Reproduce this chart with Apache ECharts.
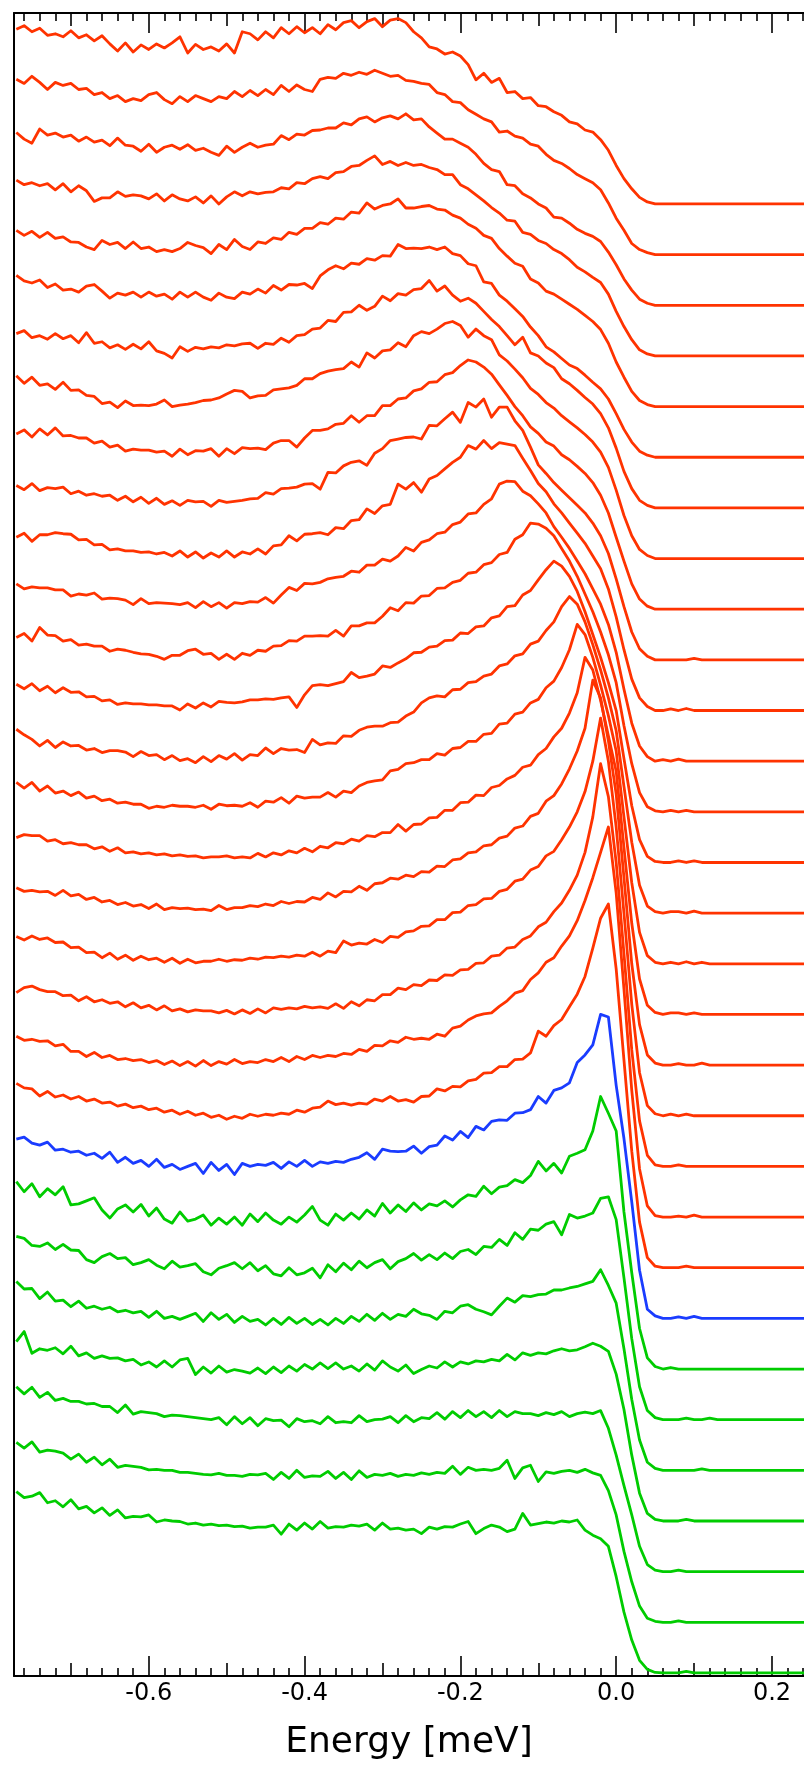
<!DOCTYPE html>
<html><head><meta charset="utf-8">
<script src="https://cdn.jsdelivr.net/npm/echarts@6/dist/echarts.min.js"></script>
<style>html,body{margin:0;padding:0;background:#fff}#c{width:804px;height:1766px}</style>
</head><body><div id="c"></div>
<script>
// Energy grid (meV)
const energy = [-0.77,-0.76,-0.75,-0.74,-0.73,-0.72,-0.71,-0.70,-0.69,-0.68,
-0.67,-0.66,-0.65,-0.64,-0.63,-0.62,-0.61,-0.60,-0.59,-0.58,
-0.57,-0.56,-0.55,-0.54,-0.53,-0.52,-0.51,-0.50,-0.49,-0.48,
-0.47,-0.46,-0.45,-0.44,-0.43,-0.42,-0.41,-0.40,-0.39,-0.38,
-0.37,-0.36,-0.35,-0.34,-0.33,-0.32,-0.31,-0.30,-0.29,-0.28,
-0.27,-0.26,-0.25,-0.24,-0.23,-0.22,-0.21,-0.20,-0.19,-0.18,
-0.17,-0.16,-0.15,-0.14,-0.13,-0.12,-0.11,-0.10,-0.09,-0.08,
-0.07,-0.06,-0.05,-0.04,-0.03,-0.02,-0.01,0.00,0.01,0.02,
0.03,0.04,0.05,0.06,0.07,0.08,0.09,0.10,0.11,0.12,0.13,0.25];

// Curves, top to bottom (intensity relative to each curve's own baseline)
const red01 = [3.45,3.52,3.40,3.47,3.33,3.36,3.30,3.42,3.28,3.34,3.22,3.32,3.16,3.02,3.18,3.00,3.14,3.05,3.16,3.08,3.18,3.30,2.98,3.15,3.05,3.10,3.02,3.16,2.98,3.40,3.36,3.24,3.40,3.28,3.48,3.36,3.50,3.38,3.48,3.36,3.54,3.44,3.58,3.62,3.48,3.60,3.66,3.50,3.63,3.66,3.58,3.40,3.28,3.10,3.06,2.96,3.00,2.92,2.75,2.45,2.58,2.40,2.48,2.20,2.22,2.08,2.10,1.94,1.92,1.82,1.75,1.62,1.58,1.46,1.42,1.27,1.06,0.76,0.50,0.30,0.13,0.04,0,0,0,0,0,0,0,0,0,0];
const red02 = [3.46,3.38,3.52,3.40,3.26,3.40,3.34,3.38,3.26,3.28,3.16,3.20,3.08,3.14,3.02,3.08,3.04,3.16,3.20,3.06,2.98,3.12,3.02,3.14,3.08,3.02,3.12,3.08,3.22,3.12,3.24,3.14,3.26,3.16,3.34,3.22,3.35,3.26,3.22,3.46,3.50,3.48,3.58,3.54,3.60,3.56,3.64,3.58,3.52,3.54,3.44,3.42,3.38,3.36,3.20,3.16,3.02,3.00,2.86,2.77,2.68,2.62,2.42,2.44,2.34,2.30,2.18,2.14,1.98,1.86,1.80,1.70,1.58,1.50,1.42,1.28,1.02,0.72,0.48,0.22,0.10,0.04,0,0,0,0,0,0,0,0,0,0];
const red03 = [3.41,3.28,3.20,3.48,3.36,3.40,3.32,3.36,3.24,3.32,3.22,3.26,3.15,3.30,3.16,3.14,3.04,3.18,3.02,3.12,3.16,3.08,3.17,3.06,3.10,3.02,2.96,3.14,3.02,3.12,3.20,3.12,3.16,3.18,3.35,3.27,3.38,3.36,3.45,3.46,3.50,3.50,3.60,3.56,3.68,3.72,3.62,3.70,3.74,3.68,3.78,3.66,3.68,3.52,3.40,3.28,3.28,3.20,3.12,2.98,2.80,2.68,2.64,2.38,2.36,2.20,2.12,2.00,1.92,1.74,1.72,1.62,1.50,1.42,1.36,1.26,1.05,0.80,0.52,0.30,0.12,0.04,0,0,0,0,0,0,0,0,0,0];
const red04 = [3.47,3.38,3.42,3.36,3.40,3.28,3.40,3.24,3.36,3.26,3.05,3.12,3.12,3.24,3.15,3.18,3.16,3.10,3.20,3.06,3.18,3.10,3.06,3.14,3.02,3.16,3.00,3.14,3.24,3.16,3.24,3.20,3.23,3.24,3.32,3.30,3.42,3.40,3.50,3.54,3.50,3.62,3.64,3.74,3.76,3.86,3.95,3.78,3.84,3.76,3.82,3.76,3.78,3.72,3.68,3.58,3.58,3.38,3.30,3.18,3.06,2.93,2.82,2.68,2.66,2.44,2.40,2.28,2.22,2.10,2.02,1.90,1.75,1.66,1.55,1.45,1.22,0.88,0.58,0.32,0.12,0.04,0,0,0,0,0,0,0,0,0,0];
const red05 = [3.48,3.38,3.46,3.34,3.44,3.32,3.35,3.25,3.24,3.15,3.10,3.28,3.20,3.24,3.12,3.25,3.12,3.15,3.06,3.10,3.06,3.12,3.24,3.18,3.14,3.02,3.20,3.10,3.30,3.16,3.10,3.25,3.22,3.33,3.30,3.44,3.40,3.52,3.52,3.63,3.60,3.72,3.70,3.84,3.82,4.02,3.90,3.97,4.00,4.10,3.92,3.92,3.95,3.97,3.90,3.88,3.78,3.72,3.60,3.52,3.38,3.32,3.12,2.97,2.83,2.77,2.52,2.44,2.28,2.22,2.12,2.02,1.92,1.80,1.68,1.52,1.25,0.88,0.58,0.30,0.12,0.04,0,0,0,0,0,0,0,0,0,0];
const red06 = [3.59,3.48,3.44,3.50,3.35,3.42,3.30,3.32,3.26,3.38,3.41,3.28,3.14,3.24,3.20,3.26,3.16,3.26,3.18,3.22,3.12,3.26,3.16,3.26,3.16,3.10,3.24,3.16,3.13,3.26,3.22,3.32,3.24,3.39,3.30,3.41,3.40,3.43,3.33,3.58,3.70,3.78,3.72,3.83,3.81,3.92,3.89,3.98,3.97,4.20,4.12,4.13,4.12,4.15,4.10,4.15,4.02,3.98,3.82,3.78,3.46,3.43,3.20,3.08,2.93,2.78,2.57,2.40,2.18,2.08,1.95,1.82,1.75,1.62,1.48,1.35,1.15,0.86,0.55,0.30,0.12,0.04,0,0,0,0,0,0,0,0,0,0];
const red07 = [3.44,3.50,3.36,3.40,3.33,3.44,3.34,3.40,3.26,3.46,3.25,3.28,3.16,3.22,3.13,3.23,3.14,3.28,3.10,3.05,2.96,3.18,3.09,3.17,3.14,3.18,3.16,3.22,3.20,3.24,3.25,3.15,3.25,3.23,3.35,3.27,3.40,3.42,3.53,3.55,3.70,3.68,3.86,3.87,4.00,3.90,3.98,4.18,4.09,4.23,4.20,4.31,4.33,4.49,4.28,4.38,4.20,4.08,4.14,4.04,3.88,3.72,3.58,3.40,3.22,3.37,3.06,3.00,2.86,2.77,2.55,2.45,2.32,2.18,2.05,1.86,1.58,1.18,0.72,0.38,0.15,0.05,0,0,0,0,0,0,0,0,0,0];
const red08 = [3.61,3.46,3.58,3.42,3.45,3.34,3.48,3.32,3.33,3.22,3.20,3.06,3.09,2.98,3.11,3.02,3.03,3.02,3.05,3.13,3.00,3.03,3.05,3.08,3.12,3.13,3.17,3.25,3.32,3.30,3.17,3.21,3.22,3.33,3.35,3.37,3.42,3.55,3.55,3.65,3.70,3.73,3.75,3.88,3.78,4.06,3.96,4.10,4.12,4.26,4.18,4.40,4.48,4.44,4.53,4.64,4.68,4.60,4.37,4.53,4.40,4.32,4.02,3.90,3.74,3.57,3.36,3.24,3.08,2.97,2.82,2.70,2.58,2.45,2.30,2.10,1.80,1.35,0.85,0.45,0.18,0.06,0,0,0,0,0,0,0,0,0,0];
const red09 = [3.46,3.54,3.40,3.56,3.44,3.58,3.42,3.43,3.38,3.38,3.28,3.32,3.20,3.24,3.12,3.16,3.14,3.14,3.10,3.12,3.02,3.16,3.05,3.13,3.12,3.17,3.02,3.17,3.07,3.19,3.17,3.18,3.15,3.28,3.33,3.33,3.20,3.38,3.53,3.53,3.56,3.65,3.67,3.82,3.69,3.82,3.82,4.02,4.02,4.15,4.17,4.31,4.35,4.48,4.49,4.63,4.67,4.81,4.92,4.88,4.78,4.64,4.43,4.22,4.00,3.82,3.60,3.47,3.30,3.22,3.05,2.95,2.82,2.68,2.50,2.25,1.90,1.42,0.95,0.50,0.20,0.06,0,0,0,0,0,0,0,0,0,0];
const red10 = [3.44,3.36,3.48,3.34,3.40,3.38,3.41,3.28,3.33,3.25,3.28,3.23,3.25,3.15,3.23,3.12,3.21,3.09,3.19,3.07,3.14,3.05,3.15,3.12,3.13,3.03,3.15,3.11,3.13,3.15,3.18,3.19,3.30,3.27,3.38,3.39,3.41,3.47,3.48,3.37,3.70,3.69,3.83,3.90,3.93,3.84,4.08,4.17,4.33,4.36,4.39,4.40,4.36,4.63,4.62,4.76,4.89,4.69,5.08,4.99,5.15,4.79,4.99,4.99,4.72,4.53,4.20,3.85,3.68,3.50,3.35,3.20,3.05,2.90,2.70,2.45,2.10,1.60,1.05,0.55,0.22,0.07,0,0,0,0,0,0.03,0,0,0,0];
const red11 = [3.42,3.50,3.34,3.47,3.47,3.51,3.49,3.48,3.37,3.38,3.27,3.28,3.17,3.19,3.15,3.15,3.12,3.13,3.09,3.12,3.05,3.15,3.03,3.13,3.01,3.11,3.03,3.15,3.03,3.13,3.09,3.19,3.09,3.25,3.27,3.45,3.35,3.48,3.49,3.51,3.47,3.61,3.59,3.75,3.77,3.98,3.89,4.04,4.07,4.47,4.37,4.50,4.31,4.57,4.64,4.77,4.90,5.00,5.23,5.16,5.33,5.17,5.29,5.26,5.23,4.98,4.74,4.48,4.32,4.08,3.90,3.70,3.50,3.30,3.05,2.80,2.40,1.85,1.20,0.62,0.25,0.08,0,0,0.03,0,0.04,0,0,0,0,0];
const red12 = [3.50,3.40,3.44,3.42,3.42,3.38,3.38,3.26,3.30,3.28,3.32,3.20,3.22,3.21,3.18,3.09,3.21,3.11,3.13,3.12,3.11,3.09,3.13,3.03,3.15,3.05,3.13,3.02,3.13,3.11,3.15,3.14,3.23,3.12,3.28,3.43,3.37,3.51,3.50,3.53,3.60,3.63,3.65,3.75,3.73,3.87,3.87,3.99,3.95,4.05,4.22,4.15,4.32,4.37,4.49,4.52,4.67,4.72,4.88,4.90,5.07,5.18,5.47,5.53,5.52,5.33,5.24,5.08,4.90,4.63,4.42,4.20,3.95,3.70,3.40,3.10,2.70,2.15,1.42,0.75,0.30,0.09,0,0.03,0,0.04,0,0,0,0,0,0];
const red13 = [3.44,3.52,3.37,3.64,3.49,3.48,3.37,3.40,3.29,3.31,3.27,3.27,3.17,3.21,3.19,3.15,3.12,3.11,3.07,3.01,3.09,3.09,3.18,3.21,3.11,3.13,3.01,3.11,3.01,3.13,3.09,3.19,3.17,3.27,3.28,3.38,3.37,3.47,3.47,3.48,3.47,3.58,3.47,3.67,3.67,3.73,3.73,3.86,4.03,3.97,4.13,4.12,4.26,4.27,4.41,4.42,4.53,4.57,4.71,4.73,4.88,4.92,5.08,5.12,5.38,5.47,5.70,5.68,5.60,5.45,5.20,4.95,4.65,4.30,3.95,3.55,3.10,2.55,1.70,0.95,0.38,0.10,0.02,0,0.03,0,0.03,0,0,0,0,0];
const red14 = [3.52,3.43,3.53,3.39,3.48,3.35,3.45,3.36,3.37,3.27,3.28,3.19,3.21,3.12,3.15,3.13,3.13,3.11,3.11,3.09,3.09,3.01,3.13,3.05,3.15,3.07,3.18,3.16,3.15,3.17,3.21,3.21,3.23,3.22,3.25,3.27,3.06,3.31,3.49,3.51,3.49,3.53,3.57,3.75,3.65,3.68,3.72,3.88,3.85,3.94,4.02,4.14,4.15,4.25,4.27,4.38,4.39,4.53,4.52,4.65,4.67,4.83,4.87,5.05,5.07,5.28,5.37,5.58,5.78,5.95,5.85,5.65,5.35,4.95,4.50,4.05,3.55,3.00,2.05,1.12,0.45,0.12,0.02,0,0,0.03,0,0.03,0,0,0,0];
const red15 = [3.63,3.52,3.43,3.30,3.41,3.27,3.38,3.30,3.31,3.22,3.25,3.17,3.21,3.21,3.18,3.09,3.19,3.11,3.13,3.03,3.11,3.01,3.05,2.97,3.09,2.99,3.11,3.04,3.15,3.02,3.13,3.11,3.26,3.15,3.25,3.22,3.23,3.17,3.43,3.32,3.36,3.35,3.50,3.49,3.61,3.67,3.69,3.69,3.76,3.77,3.89,3.97,4.15,4.25,4.29,4.27,4.41,4.42,4.55,4.57,4.68,4.72,4.88,4.92,5.08,5.12,5.31,5.37,5.58,5.75,6.05,6.25,6.10,5.75,5.30,4.80,4.25,3.60,2.50,1.40,0.55,0.14,0.03,0,0.03,0.03,0,0.04,0,0,0,0];
const red16 = [3.58,3.47,3.58,3.41,3.51,3.37,3.41,3.32,3.39,3.27,3.31,3.22,3.25,3.17,3.19,3.15,3.15,3.07,3.11,3.09,3.13,3.11,3.11,3.09,3.13,3.05,3.15,3.12,3.13,3.11,3.18,3.09,3.21,3.19,3.28,3.17,3.31,3.27,3.29,3.29,3.38,3.29,3.41,3.38,3.51,3.58,3.61,3.63,3.81,3.84,3.95,3.97,4.03,4.03,4.15,4.12,4.25,4.27,4.39,4.39,4.53,4.55,4.73,4.75,4.93,4.97,5.15,5.22,5.45,5.58,5.85,6.20,6.70,6.50,6.05,5.50,4.90,4.20,2.90,1.60,0.62,0.16,0.03,0,0.03,0,0.04,0,0.03,0,0,0];
const red17 = [3.49,3.55,3.53,3.53,3.42,3.45,3.37,3.39,3.35,3.35,3.27,3.31,3.22,3.29,3.19,3.21,3.17,3.19,3.15,3.17,3.13,3.15,3.12,3.13,3.09,3.11,3.11,3.13,3.09,3.11,3.09,3.18,3.11,3.19,3.15,3.23,3.19,3.28,3.21,3.32,3.29,3.39,3.37,3.46,3.42,3.53,3.51,3.59,3.59,3.75,3.62,3.75,3.76,3.88,3.89,4.03,4.03,4.18,4.19,4.33,4.32,4.48,4.52,4.65,4.72,4.88,4.92,5.13,5.25,5.48,5.65,5.95,6.35,7.05,6.80,6.20,5.50,4.80,3.30,1.80,0.70,0.18,0.04,0,0.03,0.03,0,0.03,0,0,0,0];
const red18 = [3.50,3.43,3.45,3.42,3.43,3.35,3.45,3.34,3.37,3.27,3.31,3.22,3.25,3.17,3.21,3.14,3.17,3.09,3.18,3.07,3.11,3.09,3.10,3.07,3.08,3.05,3.15,3.07,3.11,3.11,3.15,3.13,3.18,3.15,3.23,3.19,3.23,3.22,3.31,3.27,3.40,3.32,3.43,3.42,3.53,3.45,3.58,3.60,3.69,3.67,3.75,3.72,3.82,3.81,3.93,3.92,4.05,4.07,4.19,4.21,4.33,4.35,4.48,4.52,4.68,4.72,4.91,4.97,5.21,5.32,5.55,5.85,6.20,6.65,7.60,7.25,6.40,5.35,3.70,2.00,0.80,0.20,0.04,0,0,0.03,0,0,0.04,0,0,0];
const red19 = [3.54,3.47,3.55,3.48,3.51,3.42,3.43,3.32,3.33,3.22,3.23,3.12,3.21,3.09,3.17,3.07,3.15,3.08,3.11,3.03,3.11,3.01,3.09,3.02,3.05,3.05,3.09,3.05,3.08,3.07,3.11,3.09,3.13,3.12,3.15,3.13,3.17,3.15,3.23,3.15,3.25,3.22,3.45,3.37,3.41,3.39,3.48,3.42,3.54,3.52,3.63,3.65,3.74,3.75,3.87,3.87,4.01,4.02,4.15,4.17,4.28,4.29,4.43,4.47,4.63,4.67,4.85,4.92,5.13,5.22,5.45,5.70,6.00,6.40,7.00,7.85,7.00,5.70,4.00,2.20,0.85,0.20,0.04,0,0.03,0,0.03,0,0,0,0,0];
const red20 = [3.43,3.53,3.56,3.49,3.45,3.45,3.37,3.38,3.27,3.35,3.25,3.29,3.22,3.25,3.15,3.23,3.13,3.18,3.09,3.17,3.07,3.11,3.05,3.09,3.07,3.07,3.03,3.08,3.01,3.09,3.02,3.11,3.03,3.13,3.10,3.13,3.11,3.16,3.13,3.15,3.12,3.21,3.12,3.25,3.17,3.29,3.27,3.39,3.39,3.52,3.49,3.59,3.57,3.68,3.67,3.78,3.77,3.88,3.89,4.01,4.02,4.15,4.17,4.31,4.33,4.48,4.55,4.73,4.82,5.03,5.20,5.45,5.75,6.20,6.90,7.95,7.30,6.00,4.20,2.30,0.90,0.22,0.03,0,0,0.03,0,0,0,0,0,0];
const red21 = [3.57,3.49,3.51,3.47,3.48,3.38,3.41,3.27,3.27,3.17,3.25,3.15,3.19,3.11,3.13,3.09,3.11,3.05,3.09,3.01,3.08,2.99,3.07,2.98,3.09,2.99,3.07,3.02,3.11,3.03,3.07,3.05,3.11,3.07,3.15,3.07,3.17,3.11,3.19,3.15,3.19,3.17,3.23,3.21,3.31,3.27,3.39,3.38,3.48,3.45,3.55,3.51,3.53,3.51,3.61,3.57,3.73,3.77,3.89,3.97,4.01,4.03,4.16,4.27,4.42,4.47,4.69,4.82,5.03,5.12,5.35,5.55,5.85,6.25,6.70,7.20,7.70,6.40,4.50,2.50,0.95,0.22,0.03,0,0,0.02,0,0.04,0,0,0,0];
const red22 = [3.64,3.55,3.53,3.39,3.48,3.37,3.41,3.33,3.38,3.29,3.33,3.25,3.27,3.19,3.23,3.16,3.19,3.12,3.15,3.07,3.11,3.03,3.09,3.01,3.05,2.97,3.01,2.93,2.99,2.95,3.03,2.99,3.03,3.01,3.05,3.03,3.11,3.07,3.15,3.17,3.29,3.22,3.25,3.21,3.25,3.23,3.33,3.29,3.38,3.29,3.32,3.27,3.38,3.39,3.53,3.49,3.58,3.57,3.69,3.72,3.84,3.85,3.97,3.97,4.11,4.12,4.24,4.67,4.57,4.78,4.90,5.15,5.40,5.75,6.31,6.90,7.18,5.90,4.10,2.30,0.90,0.20,0.03,0,0,0,0.03,0,0,0,0,0];
const blue01 = [3.54,3.58,3.46,3.42,3.48,3.32,3.34,3.28,3.30,3.22,3.26,3.16,3.28,3.08,3.18,3.06,3.12,3.00,3.14,2.98,3.04,2.94,3.00,3.06,2.86,3.08,2.92,3.04,2.84,3.06,3.00,3.04,3.02,3.08,2.96,3.09,3.00,3.12,3.00,3.09,3.06,3.10,3.08,3.14,3.18,3.27,3.14,3.34,3.30,3.29,3.30,3.40,3.26,3.39,3.42,3.60,3.52,3.69,3.57,3.79,3.72,3.89,3.92,3.91,4.05,4.06,4.12,4.38,4.25,4.50,4.55,4.65,5.05,5.20,5.40,6.00,5.95,4.60,3.55,2.30,0.95,0.18,0.05,0,0,0.03,0,0.04,0,0,0,0];
const green01 = [3.70,3.50,3.66,3.40,3.56,3.44,3.60,3.24,3.26,3.32,3.38,3.14,2.98,3.16,3.24,3.10,3.25,3.02,3.18,2.96,2.88,3.10,2.92,2.96,3.04,2.84,2.98,2.86,3.00,2.84,3.06,2.91,3.08,2.94,2.86,3.00,2.90,3.04,3.21,2.94,2.84,3.06,2.94,3.08,2.96,3.14,3.02,3.27,3.08,3.24,3.11,3.28,3.14,3.26,3.22,3.32,3.20,3.34,3.44,3.41,3.61,3.46,3.59,3.62,3.74,3.68,3.82,4.10,3.91,4.06,3.87,4.20,4.26,4.33,4.70,5.38,5.05,4.70,3.10,1.90,0.80,0.22,0.05,0,0.03,0,0,0,0,0,0,0];
const green02 = [3.62,3.58,3.44,3.42,3.49,3.36,3.46,3.35,3.34,3.16,3.10,3.22,3.28,3.18,3.20,3.06,3.10,3.16,3.05,2.98,3.13,3.01,3.04,3.08,2.92,2.86,2.99,3.04,3.10,2.98,3.10,2.94,3.04,2.88,2.84,3.00,2.86,2.90,2.99,2.80,3.06,2.92,3.09,2.96,3.13,3.00,3.10,3.16,2.98,3.12,3.18,3.28,3.15,3.26,3.16,3.29,3.18,3.32,3.36,3.26,3.42,3.40,3.56,3.44,3.69,3.56,3.76,3.74,3.86,3.91,3.65,4.05,3.98,4.02,4.08,4.37,4.40,3.95,2.80,1.60,0.65,0.18,0.04,0,0,0,0.03,0,0,0.03,0,0];
const green03 = [3.73,3.58,3.59,3.39,3.52,3.34,3.36,3.23,3.34,3.20,3.24,3.18,3.22,3.13,3.16,3.11,3.14,3.02,3.14,3.00,3.04,2.98,3.04,3.10,2.94,3.11,2.98,3.08,2.92,3.04,2.94,2.98,2.87,3.00,2.88,3.02,2.90,3.00,2.88,2.98,2.87,3.00,2.90,3.04,2.94,3.08,2.96,3.10,2.98,3.08,3.04,3.18,3.09,3.06,2.98,3.14,3.11,3.24,3.27,3.18,3.13,3.07,3.24,3.40,3.32,3.45,3.43,3.47,3.48,3.56,3.56,3.60,3.63,3.68,3.73,3.96,3.65,3.30,2.40,1.40,0.60,0.16,0.04,0,0,0,0,0,0.03,0,0,0];
const green04 = [3.54,3.74,3.31,3.40,3.37,3.42,3.30,3.45,3.26,3.32,3.21,3.26,3.21,3.22,3.16,3.19,3.08,3.14,3.04,3.16,3.04,3.18,3.21,2.89,3.04,2.92,3.06,2.94,2.99,2.96,2.92,3.02,2.91,3.04,2.93,3.06,2.96,3.09,3.00,3.12,3.01,3.12,3.00,3.06,2.96,3.10,2.98,3.16,3.04,2.96,3.08,2.91,2.99,3.06,3.02,3.14,3.04,3.14,3.10,3.16,3.14,3.19,3.16,3.29,3.18,3.32,3.27,3.32,3.30,3.36,3.40,3.36,3.38,3.44,3.51,3.45,3.35,2.90,2.20,1.30,0.55,0.15,0.03,0,0,0,0.03,0,0,0,0,0];
const green05 = [3.65,3.51,3.64,3.44,3.54,3.38,3.42,3.36,3.36,3.31,3.32,3.26,3.26,3.14,3.29,3.11,3.16,3.14,3.12,3.06,3.09,3.08,3.06,3.04,3.02,3.00,3.04,2.90,3.06,2.92,3.04,2.88,3.02,2.98,2.99,2.86,3.02,2.96,2.98,2.92,3.06,2.94,2.96,2.94,3.08,2.96,3.00,3.01,3.06,2.94,3.08,2.96,3.04,3.02,3.14,3.01,3.16,3.04,3.18,3.06,3.16,3.04,3.18,3.06,3.16,3.12,3.12,3.08,3.14,3.10,3.16,3.06,3.12,3.15,3.12,3.18,2.83,2.30,1.70,1.12,0.50,0.14,0.03,0,0,0.03,0,0,0,0,0,0];
const green06 = [3.55,3.44,3.56,3.36,3.40,3.38,3.34,3.22,3.32,3.16,3.26,3.11,3.22,3.06,3.10,3.08,3.06,3.01,3.02,3.00,3.00,2.96,2.96,2.94,2.92,2.91,2.94,2.90,2.90,2.88,2.92,2.91,2.94,2.82,2.96,2.84,3.00,2.86,2.89,2.88,2.98,2.84,2.96,2.82,2.99,2.86,2.92,2.90,2.94,2.88,2.92,2.90,2.95,2.92,2.96,2.94,3.08,2.92,3.06,3.00,3.02,3.00,3.04,3.20,2.84,3.05,3.10,2.78,2.97,2.94,2.98,3.00,2.96,3.02,2.95,2.90,2.60,2.12,1.40,0.80,0.32,0.08,0.02,0,0,0.03,0,0,0,0,0,0];
const green07 = [3.58,3.46,3.49,3.56,3.36,3.40,3.28,3.42,3.24,3.29,3.16,3.26,3.11,3.22,3.06,3.09,3.08,3.12,2.98,3.02,3.00,2.99,2.94,2.96,2.92,2.94,2.91,2.92,2.89,2.90,2.86,2.88,2.88,2.92,2.74,2.94,2.82,2.96,2.84,2.99,2.86,2.89,2.88,2.92,2.90,2.94,2.82,2.96,2.84,2.86,2.82,2.84,2.75,2.88,2.84,2.89,2.88,2.94,2.99,2.75,2.85,2.92,2.88,2.79,2.84,3.15,2.92,2.95,2.98,2.96,3.00,2.98,3.02,2.82,2.72,2.65,2.50,1.90,1.20,0.65,0.25,0.07,0.01,0,0,0,0.03,0,0,0,0,0];

// Axis ticks
const tickLabels = [-0.6, -0.4, -0.2, 0.0, 0.2];
const majorTicks = [-0.6, -0.4, -0.2, 0.0, 0.2];
const mediumTicks = [-0.7, -0.5, -0.3, -0.1, 0.1];
const minorTicks = [-0.76,-0.74,-0.72,-0.68,-0.66,-0.64,-0.62,-0.58,-0.56,-0.54,-0.52,-0.48,-0.46,-0.44,-0.42,-0.38,-0.36,-0.34,-0.32,-0.28,-0.26,-0.24,-0.22,-0.18,-0.16,-0.14,-0.12,-0.08,-0.06,-0.04,-0.02,0.02,0.04,0.06,0.08,0.12,0.14,0.16,0.18,0.22,0.24];

const RED = '#ff3300', BLUE = '#1a3cff', GREEN = '#00cc00';
const curves = [
  [red01,RED],[red02,RED],[red03,RED],[red04,RED],[red05,RED],[red06,RED],[red07,RED],[red08,RED],
  [red09,RED],[red10,RED],[red11,RED],[red12,RED],[red13,RED],[red14,RED],[red15,RED],[red16,RED],
  [red17,RED],[red18,RED],[red19,RED],[red20,RED],[red21,RED],[red22,RED],
  [blue01,BLUE],
  [green01,GREEN],[green02,GREEN],[green03,GREEN],[green04,GREEN],[green05,GREEN],[green06,GREEN],[green07,GREEN]
];

const xMin = -0.773, xMax = 0.2411;
const FONT = 'DejaVu Sans';
function xAx(pos, ticks, len, showLine, withLabels) {
  const a = {
    type: 'value', position: pos, min: xMin, max: xMax,
    axisLine: { show: showLine, onZero: false, lineStyle: { color: '#000', width: 2 } },
    axisTick: { show: true, inside: true, length: len, customValues: ticks, lineStyle: { color: '#000', width: 1.6 } },
    axisLabel: { show: false },
    splitLine: { show: false }
  };
  if (withLabels) {
    a.axisLabel = { show: true, customValues: tickLabels, formatter: v => Number(v).toFixed(1),
      fontSize: 24, color: '#000', margin: 6, fontFamily: FONT };
    a.name = 'Energy [meV]';
    a.nameLocation = 'middle';
    a.nameGap = 49;
    a.nameTextStyle = { fontSize: 36, color: '#000', fontFamily: FONT };
  }
  return a;
}

const n = curves.length;
const series = [];
// draw red first, then green, then blue on top
const order = [];
for (let i = 0; i < n; i++) if (curves[i][1] === RED) order.push(i);
for (let i = 0; i < n; i++) if (curves[i][1] === GREEN) order.push(i);
for (let i = 0; i < n; i++) if (curves[i][1] === BLUE) order.push(i);
order.forEach(idx => {
  const [vals, col] = curves[idx];
  const off = n - 1 - idx;
  series.push({
    type: 'line', xAxisIndex: 0, yAxisIndex: 0, showSymbol: false, symbol: 'none',
    lineStyle: { color: col, width: 2.8, join: 'round' }, itemStyle: { color: col },
    emphasis: { disabled: true }, silent: true, clip: true,
    data: energy.map((e, i) => [e, vals[i] + off])
  });
});

const chart = echarts.init(document.getElementById('c'), null, { renderer: 'canvas' });
chart.setOption({
  animation: false,
  backgroundColor: '#fff',
  grid: { left: 14, right: -3, top: 13, bottom: 90, containLabel: false },
  xAxis: [
    xAx('bottom', majorTicks, 20, true, true),
    xAx('bottom', mediumTicks, 13, false, false),
    xAx('bottom', minorTicks, 8, false, false),
    xAx('top', majorTicks, 20, true, false),
    xAx('top', mediumTicks, 13, false, false),
    xAx('top', minorTicks, 8, false, false)
  ],
  yAxis: {
    type: 'value', min: -0.06, max: 32.77,
    axisLine: { show: true, onZero: false, lineStyle: { color: '#000', width: 2 } },
    axisTick: { show: false }, axisLabel: { show: false }, splitLine: { show: false }
  },
  series: series
});
</script>
</body></html>
